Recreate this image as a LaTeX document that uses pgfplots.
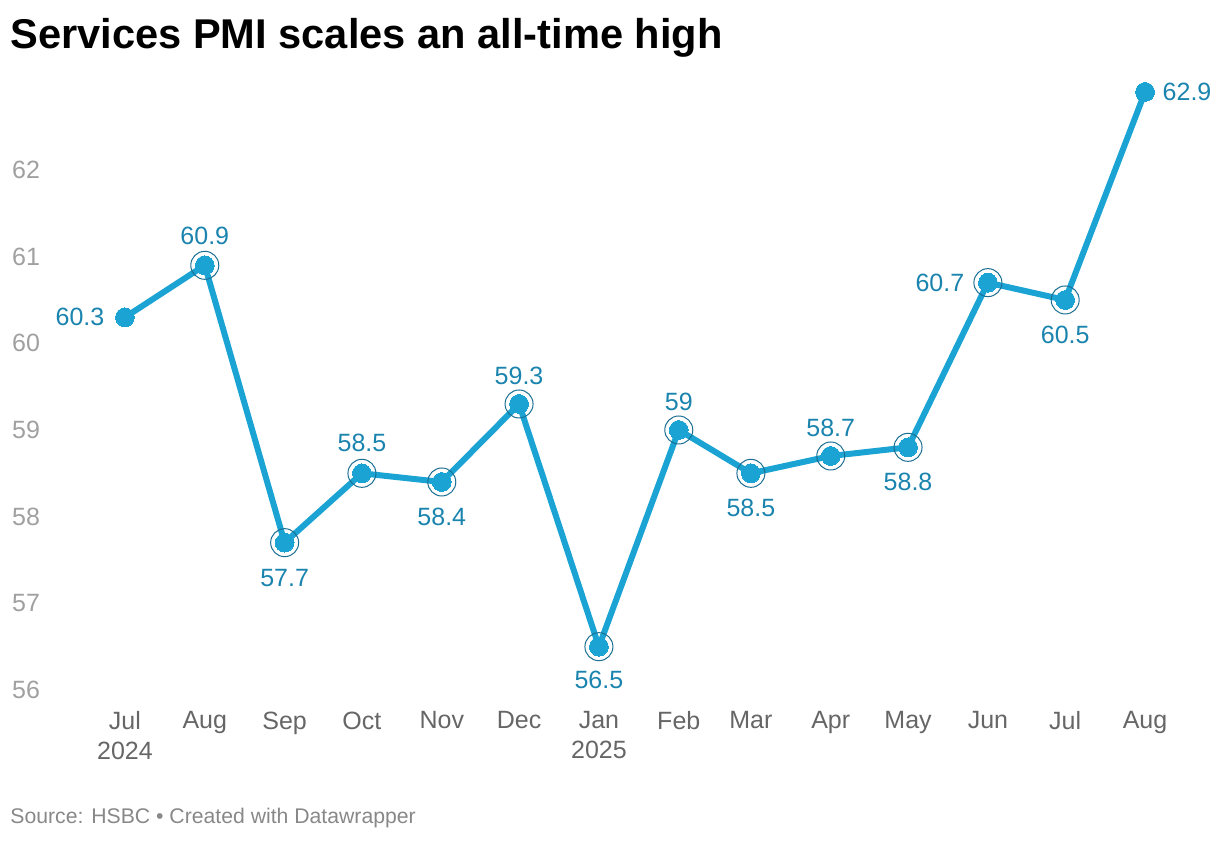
\documentclass[border=0pt]{standalone}
\usepackage{fontspec}
\setmainfont{Liberation Sans}
\usepackage{pgfplots}
\usepackage{pgfplotstable}
\pgfplotsset{compat=1.18}

\definecolor{pmiline}{HTML}{1AA3D3}
\definecolor{pmilabel}{HTML}{1A84AE}
\definecolor{ring}{HTML}{1A6E92}
\definecolor{ytick}{HTML}{A0A0A0}
\definecolor{xtick}{HTML}{666666}
\definecolor{srcgray}{HTML}{888888}

% x = days since 1 Jul 2024, dx/dy = label offset in pt
\pgfplotstableread{
x   y     dx     dy
0   60.3  -22.5  0
31  60.9  0      14.5
62  57.7  0      -17.5
92  58.5  0      15
123 58.4  0      -17.5
153 59.3  0      14
184 56.5  0      -16.5
215 59    0      14
243 58.5  0      -17.5
274 58.7  0      14
304 58.8  0      -17.5
335 60.7  -24    0
365 60.5  0      -17.5
396 62.9  21     0
}\pmi

% points drawn with a ring
\pgfplotstableread{
x   y
31  60.9
62  57.7
92  58.5
123 58.4
153 59.3
184 56.5
215 59
243 58.5
274 58.7
304 58.8
335 60.7
365 60.5
}\rings

\begin{document}
\begin{tikzpicture}
\begin{axis}[
  scale only axis,
  width=582.1pt, height=312pt,
  xmin=-31, xmax=421,
  ymin=55.8, ymax=63,
  axis line style={draw=none},
  major tick length=0pt,
  clip=false,
  xtick={0,31,62,92,123,153,184,215,243,274,304,335,365,396},
  xticklabels={Jul\\2024,Aug,Sep,Oct,Nov,Dec,Jan\\2025,Feb,Mar,Apr,May,Jun,Jul,Aug},
  xticklabel style={align=center, font=\fontsize{12.5}{15}\selectfont, text=xtick, inner sep=0pt, yshift=-2pt},
  ytick={56,57,...,62},
  yticklabel style={anchor=west, font=\fontsize{12.5}{15}\selectfont, text=ytick, xshift=-20pt},
  /pgf/number format/assume math mode=true,
]
\draw[draw=none] (axis cs:-48.5,63.961) rectangle (axis cs:425.1,54.269);
\node[anchor=west, inner sep=0pt, font=\bfseries\fontsize{20.8}{22}\selectfont]
  at (axis cs:-44.6,63.53) {Services PMI scales an all-time high};
\node[anchor=west, inner sep=0pt, text=srcgray, font=\fontsize{10.6}{13}\selectfont]
  at (axis cs:-44.6,54.52) {Source: HSBC \textbullet\ Created with Datawrapper};

\addplot[only marks, mark=o, mark size=7pt, draw=ring,
  mark options={line width=0.5pt}] table[x=x, y=y] {\rings};

\addplot[pmiline, line width=3pt, mark=*, mark size=4.7pt,
  mark options={fill=pmiline, draw=none, line width=0pt},
  point meta=explicit symbolic,
  nodes near coords,
  visualization depends on={\thisrow{dx}\as\dx},
  visualization depends on={\thisrow{dy}\as\dy},
  every node near coord/.append style={anchor=center, inner sep=0pt,
    text=pmilabel, font=\fontsize{12.5}{15}\selectfont,
    xshift=\dx pt, yshift=\dy pt},
] table[x=x, y=y, meta=y] {\pmi};
\end{axis}
\end{tikzpicture}
\end{document}
